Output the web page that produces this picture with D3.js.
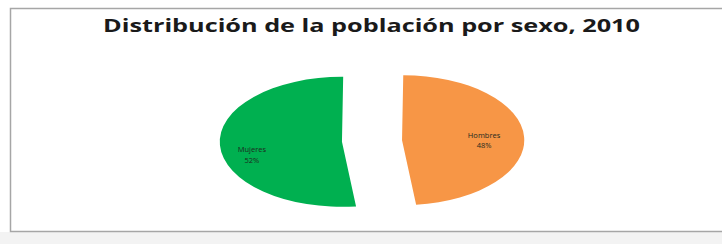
<!DOCTYPE html>
<html>
<head>
<meta charset="utf-8">
<script src="https://cdn.jsdelivr.net/npm/d3@7/dist/d3.min.js"></script>
<style>
  html, body { margin: 0; padding: 0; background: #ffffff; }
  svg { display: block; }
</style>
</head>
<body>
<div id="vis-container"></div>
<script>
// chart data
var title = "Distribución de la población por sexo, 2010";
var categories = ["Hombres", "Mujeres"];
var values = [48, 52];
var colors = ["#f79646", "#00b050"];

// svg container
var width = 722;
var height = 244;

// pie geometry (the picture is stretched, so the pie is an ellipse)
var cx = 372;
var cy = 141;
var radius = 65;
var stretch = 1.88;
var explode = 16;

var svg = d3.select("#vis-container")
	.append("svg")
	.attr("width", width)
	.attr("height", height)
	.style("background-color", "#ffffff");

// light band under the frame
svg.append("rect")
	.attr("x", 0)
	.attr("y", 232)
	.attr("width", width)
	.attr("height", height - 232)
	.attr("fill", "#f3f3f3");

// chart frame
svg.append("rect")
	.attr("x", 10.5)
	.attr("y", 8.5)
	.attr("width", width + 10)
	.attr("height", 223)
	.attr("fill", "#ffffff")
	.attr("stroke", "#a6a6a6")
	.attr("stroke-width", 1.5);

// title
svg.append("text")
	.attr("x", 371.5)
	.attr("y", 32)
	.attr("text-anchor", "middle")
	.attr("font-family", "'Open Sans', 'DejaVu Sans', sans-serif")
	.attr("font-weight", "bold")
	.attr("font-size", 18)
	.attr("fill", "#1a1a1a")
	.attr("textLength", 537)
	.attr("lengthAdjust", "spacingAndGlyphs")
	.text(title);

var pie = d3.pie()
	.sort(null)
	.startAngle(0.01)
	.endAngle(0.01 + 2 * Math.PI);

var arcs = pie(values);

var arc = d3.arc()
	.innerRadius(0)
	.outerRadius(radius);

// group the pie and squash it to an ellipse
var plot = svg.append("g")
	.attr("transform", "translate(" + cx + "," + cy + ") scale(" + stretch + ",1)");

plot.selectAll("path")
	.data(arcs)
	.enter()
	.append("path")
	.attr("d", arc)
	.attr("fill", function(d, i) { return colors[i]; })
	.attr("transform", function(d) {
		var mid = (d.startAngle + d.endAngle) / 2;
		return "translate(" + (Math.sin(mid) * explode) + "," + (-Math.cos(mid) * explode) + ")";
	});

// labels, placed just inside the outer end of each slice
var labels = svg.append("g")
	.attr("font-family", "'Open Sans', 'DejaVu Sans', sans-serif")
	.attr("font-size", 7.5)
	.attr("text-anchor", "middle")
	.attr("fill", "#1e2a1e");

arcs.forEach(function(d, i) {
	var mid = (d.startAngle + d.endAngle) / 2;
	var r = radius + explode;
	var px = cx + Math.sin(mid) * (r * stretch);
	var py = cy - Math.cos(mid) * r;
	var right = Math.sin(mid) > 0;
	var lx = right ? px - 40 : px + 32;
	var ly = right ? py + 4 : py + 10;
	labels.append("text")
		.attr("x", lx)
		.attr("y", ly - 3)
		.text(categories[i]);
	labels.append("text")
		.attr("x", lx)
		.attr("y", ly + 7.5)
		.text(values[i] + "%");
});
</script>
</body>
</html>
